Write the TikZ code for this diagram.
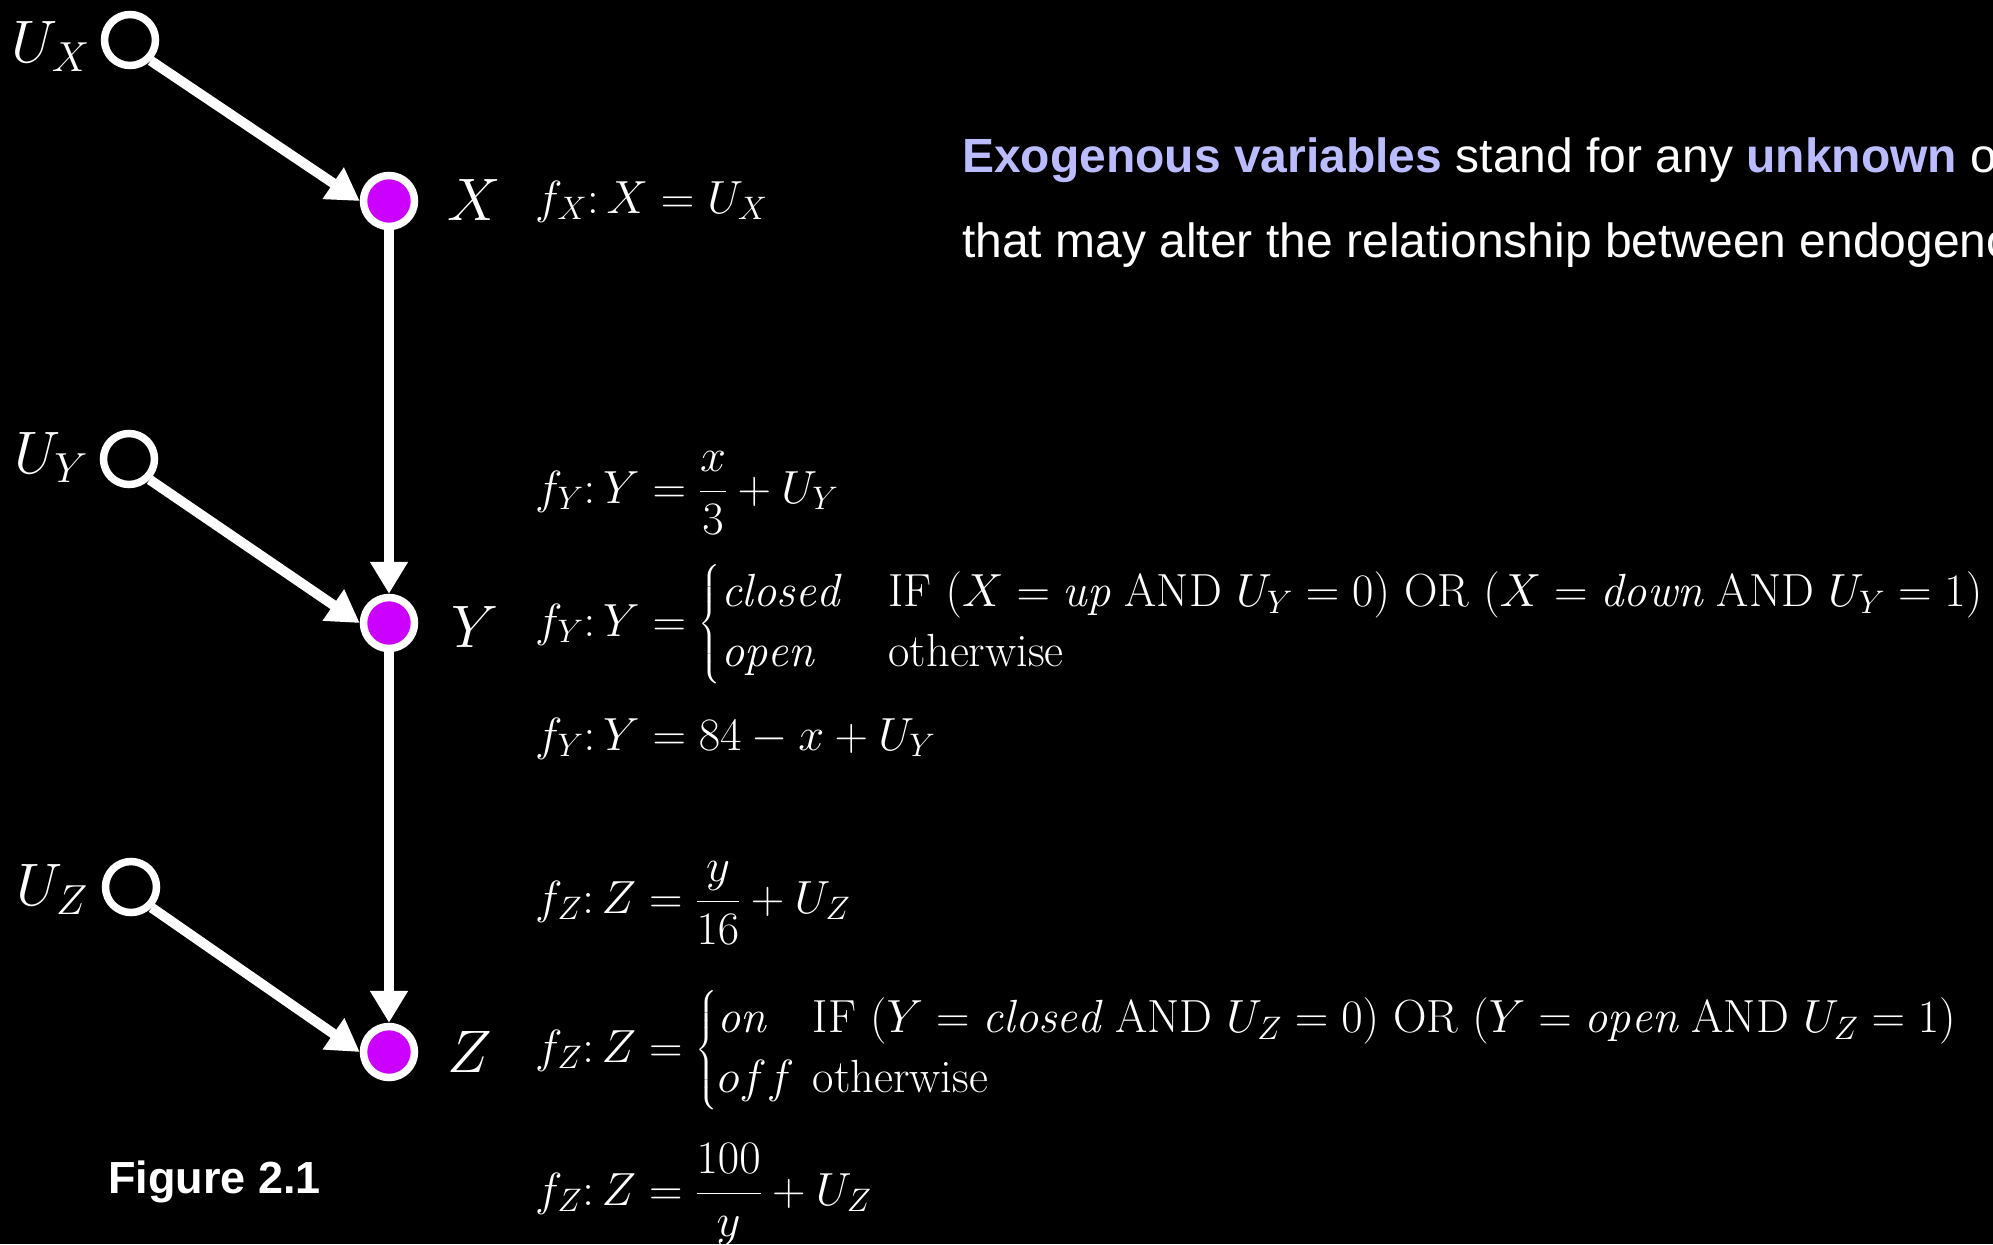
\RequirePackage{fix-cm}
\documentclass[tikz,border=0pt]{standalone}
\usepackage{amsmath}
\usepackage{fontspec}
\newfontfamily\arialfont{Liberation Sans}
\usetikzlibrary{arrows.meta}
\definecolor{nodepurple}{RGB}{204,0,255}
\definecolor{lav}{RGB}{187,187,255}
\newcommand{\mycases}[2]{\left\{\def\arraystretch{1.2}\begin{array}{@{}l@{\hspace{#1}}l@{}}#2\end{array}\right.}
\begin{document}
\begin{tikzpicture}[x=1pt,y=-1pt,
  exo/.style={circle, draw=white, line width=7.5pt, fill=black, minimum size=51pt, inner sep=0pt},
  endo/.style={exo, fill=nodepurple},
  arr/.style={draw=white, line width=10pt, -{Triangle[width=36pt,length=32pt]}},
  lbl/.style={text=white, inner sep=0pt, font=\fontsize{60}{70}\selectfont},
  eq/.style={text=white, inner sep=0pt, anchor=base west, font=\fontsize{46.5}{50}\selectfont},
  txt/.style={text=white, inner sep=0pt, anchor=base west, font=\arialfont\fontsize{48}{56}\selectfont},
  figcap/.style={text=white, inner sep=0pt, anchor=base west, font=\arialfont\bfseries\fontsize{45}{54}\selectfont}]
\useasboundingbox (0,0) rectangle (1993,1244);
\clip (0,0) rectangle (1993,1244);
\fill[black] (0,0) rectangle (1993,1244);

% nodes
\node[exo] (ux) at (130,40) {};
\node[exo] (uy) at (129,459) {};
\node[exo] (uz) at (131,887) {};
\node[endo] (x) at (389,201) {};
\node[endo] (y) at (389,623) {};
\node[endo] (z) at (389,1052) {};

% labels
\node[lbl, anchor=base east] (lux) at (90,63) {$U_X$};
\node[lbl, anchor=base east] (luy) at (88,473) {$U_Y$};
\node[lbl, anchor=base east] (luz) at (88,905) {$U_Z$};
\node[lbl, anchor=base west] (lx) at (447,220) {$X$};
\node[lbl, anchor=base west] (ly) at (451,647) {$Y$};
\node[lbl, anchor=base west] (lz) at (447,1072) {$Z$};

% connectors
\draw[arr] (ux.south east) -- (x.west);
\draw[arr] (uy.south east) -- (y.west);
\draw[arr] (uz.south east) -- (z.west);
\draw[arr] (x.south) -- (y.north);
\draw[arr] (y.south) -- (z.north);

% equations
\node[eq] (e1) at (535,213) {$f_X{:}\,X = U_X$};
\node[eq] (e2) at (535,503) {$\displaystyle f_Y{:}\,Y = \frac{x}{3} + U_Y$};
\node[eq] (e3) at (535,636) {$f_Y{:}\,Y = \mycases{1.05em}{\mathit{closed} & \text{IF } (X = \mathit{up} \text{ AND } U_Y = 0) \text{ OR } (X = \mathit{down} \text{ AND } U_Y = 1)\\ \mathit{open} & \text{otherwise}}$};
\node[eq] (e4) at (535,750) {$f_Y{:}\,Y = 84 - x + U_Y$};
\node[eq] (e5) at (535,913) {$\displaystyle f_Z{:}\,Z = \frac{y}{16} + U_Z$};
\node[eq] (e6) at (535,1062) {$f_Z{:}\,Z = \mycases{0.4em}{\mathit{on} & \text{IF } (Y = \mathit{closed} \text{ AND } U_Z = 0) \text{ OR } (Y = \mathit{open} \text{ AND } U_Z = 1)\\ off & \text{otherwise}}$};
\node[eq] (e7) at (535,1205) {$\displaystyle f_Z{:}\,Z = \frac{100}{y} + U_Z$};

% text
\node[txt] (t1) at (962,172) {\textcolor{lav}{\bfseries Exogenous variables} stand for any \textcolor{lav}{\bfseries unknown} o};
\node[txt] (t2) at (962,257) {that may alter the relationship between endogeno};
\node[figcap] (fig) at (108,1193) {Figure 2.1};
\end{tikzpicture}
\end{document}
